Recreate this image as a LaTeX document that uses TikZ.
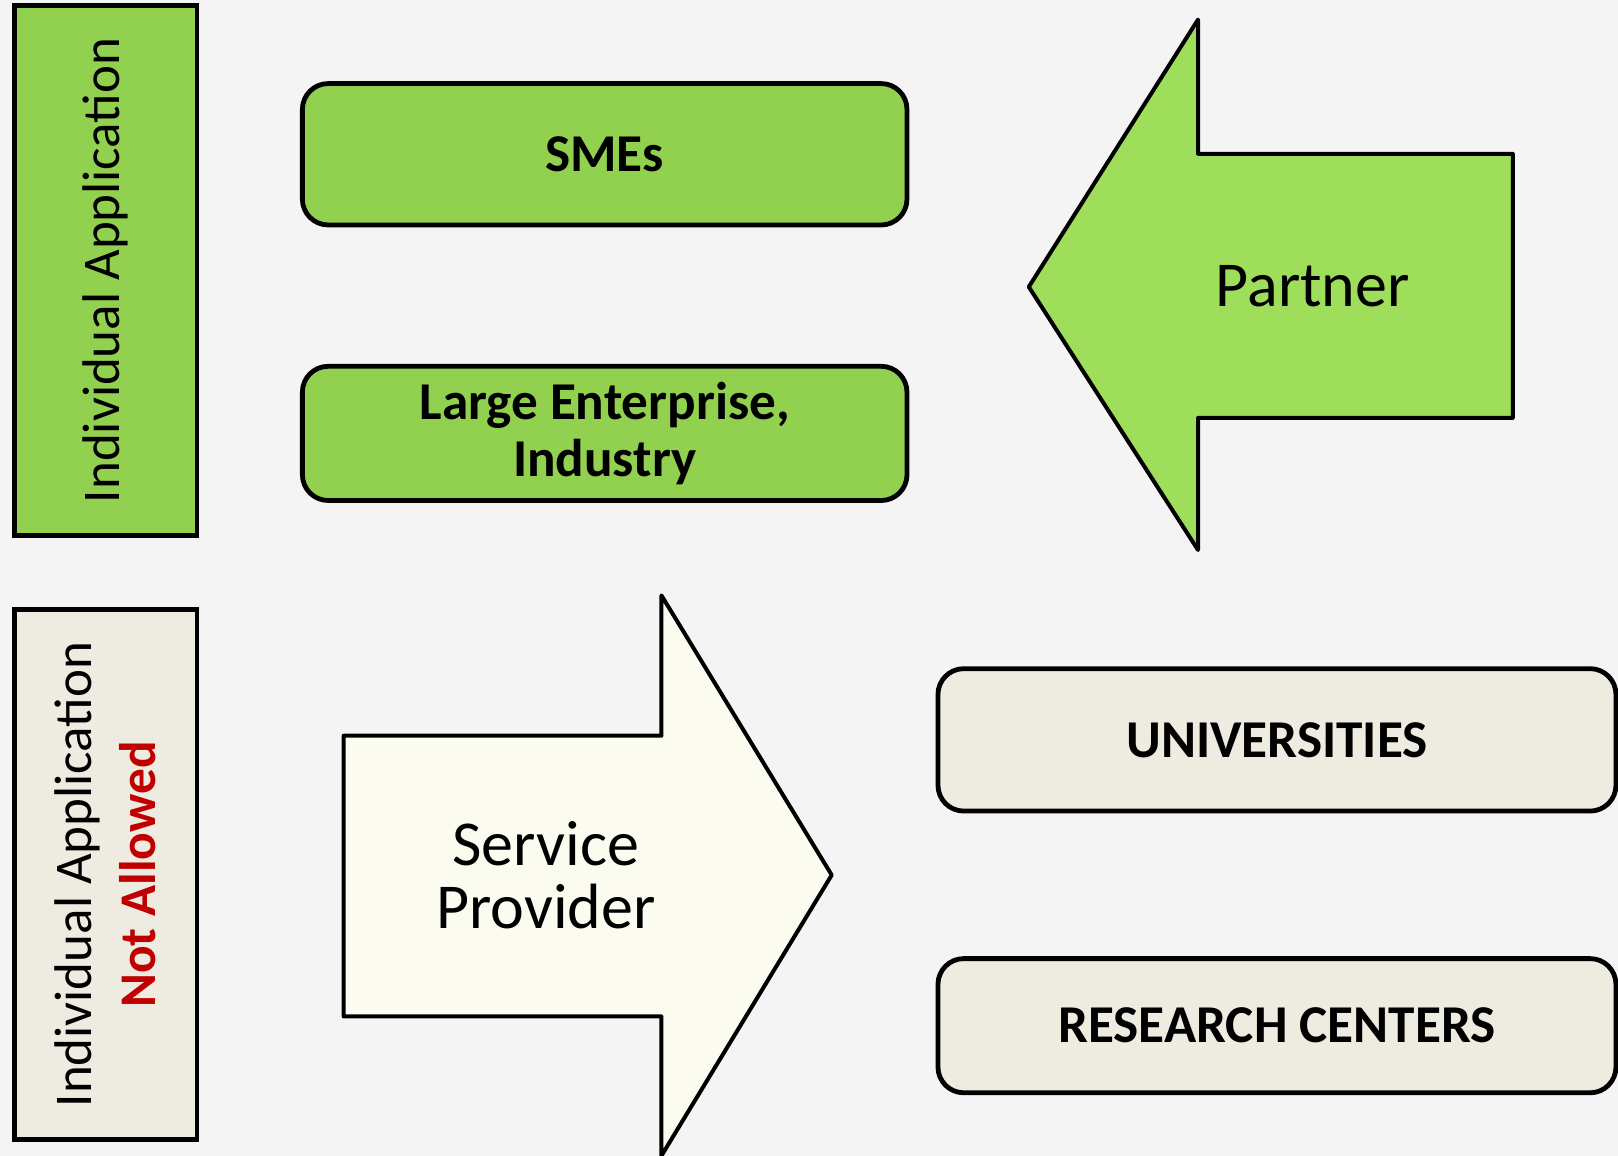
\documentclass[tikz,border=0pt]{standalone}
\usepackage{fontspec}
\setmainfont{Carlito}
\usepackage{xcolor}
\usetikzlibrary{positioning}
\definecolor{leafgreen}{HTML}{92D050}
\definecolor{limegreen}{HTML}{9FDE5A}
\definecolor{paper}{HTML}{EEEBE0}
\definecolor{cream}{HTML}{FCFBF0}
\definecolor{slide}{HTML}{F4F4F4}
\definecolor{alertred}{HTML}{C00000}
\newcommand{\boxfont}{\fontsize{26.6}{28.5}\selectfont\bfseries}
\newcommand{\arrowfont}{\fontsize{32}{31.7}\selectfont}
\newcommand{\sidefont}{\fontsize{26.5}{32}\selectfont}

\begin{document}
\begin{tikzpicture}[x=0.51594pt,y=-0.51594pt]
                \fill[slide] (0,0) rectangle (1568,1120);
                \useasboundingbox (0,0) rectangle (1568,1120);

                % side bars
                \begin{scope}[every node/.style={draw=black,line width=2.4pt,rotate=90,
                    minimum width=265.2pt,minimum height=91.3pt,align=center,font=\sidefont}]
                    \node[fill=leafgreen] (indiv) at (102.5,262) {Individual Application};
                    \node[fill=paper] (notallowed) at (102.5,847.5) {Individual Application\\
                        {\fontsize{25.7}{32}\selectfont\bfseries\color{alertred}Not Allowed}};
                \end{scope}

                % rounded boxes
                \begin{scope}[every node/.style={draw=black,line width=2.4pt,rounded corners=12.9pt,
                    align=center,font=\boxfont}]
                    \node[fill=leafgreen,minimum width=302.3pt,minimum height=70.7pt] (smes) at (586,149.5) {SMEs};
                    \node[fill=leafgreen,minimum width=302.3pt,minimum height=67.1pt] (large) at (586,420) {Large Enterprise,\\Industry};
                    \node[fill=paper,minimum width=339pt,minimum height=71.2pt] (univ) at (1237.5,717) {UNIVERSITIES};
                    \node[fill=paper,minimum width=339pt,minimum height=67.1pt] (research) at (1237.5,994) {RESEARCH CENTERS};
                \end{scope}

                % block arrows
                \begin{scope}[line width=2pt,line join=round]
                    \draw[fill=limegreen] (997,278) -- (1161,19) -- (1161,149) -- (1466,149)
                        -- (1466,405) -- (1161,405) -- (1161,533) -- cycle;
                    \draw[fill=cream] (806,848) -- (641,577) -- (641,713) -- (333,713)
                        -- (333,985) -- (641,985) -- (641,1120) -- cycle;
                \end{scope}

                \begin{scope}[every node/.style={align=center,font=\arrowfont}]
                    \node (partner) at (1272,277) {Partner};
                    \node (provider) at (529,848) {Service\\Provider};
                \end{scope}
            \end{tikzpicture}
\end{document}
